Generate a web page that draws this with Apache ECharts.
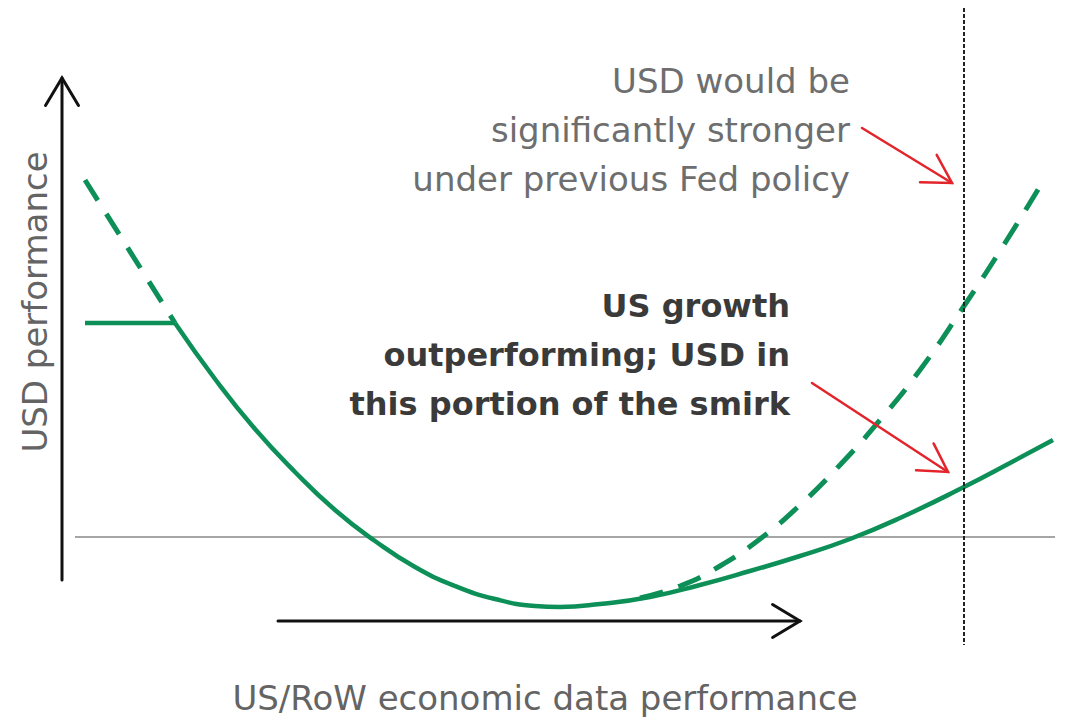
<!DOCTYPE html>
<html>
<head>
<meta charset="utf-8">
<script src="https://cdn.jsdelivr.net/npm/echarts@6/dist/echarts.min.js"></script>
<style>
html,body{margin:0;padding:0;background:#fff;}
#chart{width:1076px;height:724px;}
</style>
</head>
<body>
<div id="chart"></div>
<script>
// Conceptual "USD smirk" — x: US/RoW economic data performance, y: USD performance (0 = neutral line)
const solidFlatX = [85, 175];
const solidFlatY = [214, 214];
const solidX = [175, 215, 255, 295, 335, 375, 415, 455, 495, 535, 560, 600, 650, 700, 750, 800, 850, 900, 964, 1010, 1053];
const solidY = [214, 158, 108, 65, 27, -4, -30, -49, -62, -69, -70, -67, -60, -48, -34, -19, -2, 19, 50, 74, 97];
const dashLeftX = [85, 175];
const dashLeftY = [357, 214];
const dashRightX = [640, 680, 720, 760, 800, 840, 880, 920, 964, 1005, 1045];
const dashRightY = [-61, -49, -29, -2, 32, 72, 117, 167, 231, 294, 359];
const neutralX = [75, 1055];
const neutralY = [0, 0];
const policyX = [964, 964];
const policyY = [529, -108];
// annotation arrows: [fromX, fromY, toX, toY]
const axisArrowY = [62, -43, 62, 459];
const axisArrowX = [278, -84, 800, -84];
const redArrow1 = [862, 409, 952, 354];
const redArrow2 = [812, 154, 948, 65];

const GREEN = '#0d8f58';
const RED = '#e3242b';

function pts(xs, ys){ return xs.map((x,i)=>[x, ys[i]]); }

function arrowSeries(a, color, width, headLen, halfAngleDeg){
  const [x1,y1,x2,y2] = a;
  const ang = Math.atan2(y2-y1, x2-x1);
  const h = halfAngleDeg*Math.PI/180;
  const w1 = [x2 - headLen*Math.cos(ang-h), y2 - headLen*Math.sin(ang-h)];
  const w2 = [x2 - headLen*Math.cos(ang+h), y2 - headLen*Math.sin(ang+h)];
  const base = {type:'line', symbol:'none', silent:true, z:5,
    lineStyle:{color:color, width:width, cap:'round', join:'miter'}};
  return [
    Object.assign({}, base, {data:[[x1,y1],[x2,y2]]}),
    Object.assign({}, base, {data:[w1,[x2,y2],w2]})
  ];
}

const chart = echarts.init(document.getElementById('chart'), null, {renderer:'svg'});
const series = [
  {type:'line', data:pts(neutralX, neutralY), symbol:'none', silent:true,
   lineStyle:{color:'#a6a6a6', width:2}, z:1},
  {type:'line', data:pts(policyX, policyY), symbol:'none', silent:true,
   lineStyle:{color:'#222', width:2, type:[4,2]}, z:6},
  {type:'line', data:pts(dashLeftX, dashLeftY), symbol:'none', silent:true,
   lineStyle:{color:GREEN, width:5, type:[24,16]}, z:3},
  {type:'line', data:pts(dashRightX, dashRightY), symbol:'none', smooth:0.5, silent:true,
   lineStyle:{color:GREEN, width:5, type:[24,16]}, z:3},
  {type:'line', data:pts(solidFlatX, solidFlatY), symbol:'none', silent:true,
   lineStyle:{color:GREEN, width:4.5}, z:4},
  {type:'line', data:pts(solidX, solidY), symbol:'none', smooth:0.5, silent:true,
   lineStyle:{color:GREEN, width:4.5}, z:4}
].concat(
  arrowSeries(axisArrowY, '#111', 3, 32, 31),
  arrowSeries(axisArrowX, '#111', 3, 32, 31),
  arrowSeries(redArrow1, RED, 2.5, 32, 30),
  arrowSeries(redArrow2, RED, 2.5, 32, 30)
);

const FONT = '"DejaVu Sans", sans-serif';
chart.setOption({
  animation:false,
  backgroundColor:'#ffffff',
  grid:{left:0, right:0, top:0, bottom:0},
  xAxis:{type:'value', min:0, max:1076, show:false},
  yAxis:{type:'value', min:-187, max:537, show:false},
  series: series,
  graphic:[
    {type:'text', x:35, y:302, rotation:Math.PI/2,
     style:{text:'USD performance', font:'normal 34px '+FONT, fill:'#646464',
            align:'center', verticalAlign:'middle'}},
    {type:'text', x:545, y:698,
     style:{text:'US/RoW economic data performance', font:'normal 34px '+FONT, fill:'#646464',
            align:'center', verticalAlign:'middle'}},
    {type:'text', x:850, y:56,
     style:{text:'USD would be\nsignificantly stronger\nunder previous Fed policy',
            font:'normal 34px '+FONT, fill:'#6e6e6e', align:'right', verticalAlign:'top', lineHeight:49}},
    {type:'text', x:790, y:281,
     style:{text:'US growth\noutperforming; USD in\nthis portion of the smirk',
            font:'bold 32px '+FONT, fill:'#3a3a3a', align:'right', verticalAlign:'top', lineHeight:49}}
  ]
});
</script>
</body>
</html>
